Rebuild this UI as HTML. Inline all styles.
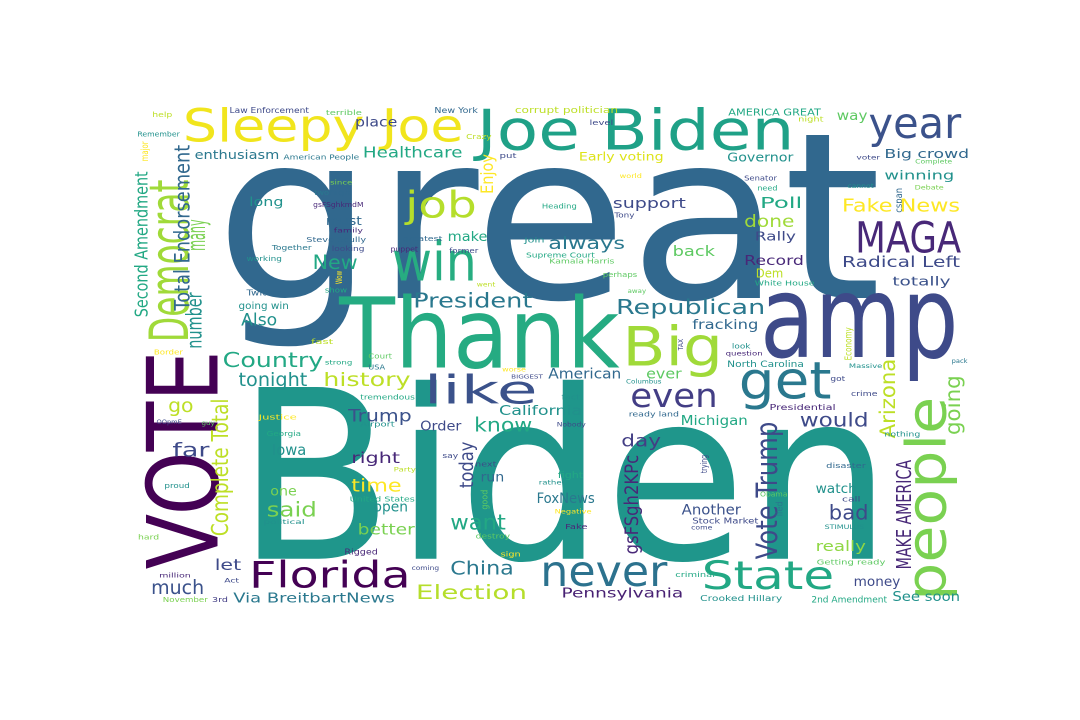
<!DOCTYPE html>
<html><head><meta charset="utf-8"><title>Word cloud</title>
<style>html,body{margin:0;padding:0;background:#fff;}svg{display:block;}
text{font-family:"DejaVu Sans","Liberation Sans",sans-serif;}</style></head>
<body>
<svg id="cloud" width="1080" height="720" viewBox="0 0 1080 720" xmlns="http://www.w3.org/2000/svg">
<rect width="1080" height="720" fill="#ffffff"/>
<g id="words" transform="translate(130,95) scale(0.5294,0.3317)"></g>
</svg>
<script>
// [text, x, baselineY, fontSize, length, color, rotated]
const words = [
["great",160,612,700,1260,"#31688e",0],
["Biden",200,1398,710,1240,"#1f968b",0],
["VOTE",165,1430,185,660,"#440154",1],
["Thank",395,822,294,530,"#25ab82",0],
["amp",1190,790,345,375,"#3e4a89",0],
["Joe Biden",655,165,170,600,"#1fa187",0],
["Sleepy Joe",100,140,137,530,"#f1e51d",0],
["year",1395,130,128,175,"#3b528b",0],
["MAGA",1370,475,130,200,"#482878",0],
["people",1540,1525,105,615,"#7ad151",1],
["Democrat",110,745,103,490,"#a0da39",1],
["Big",930,815,165,190,"#a0da39",0],
["get",1150,915,155,175,"#2a788e",0],
["like",555,930,118,215,"#3b528b",0],
["even",945,940,100,165,"#433e85",0],
["win",495,560,165,160,"#27ad81",0],
["job",520,370,110,135,"#b5de2b",0],
["never",775,1480,128,240,"#2c728e",0],
["State",1080,1490,118,250,"#22a884",0],
["Florida",225,1485,110,305,"#440154",0],
["Election",540,1520,58,210,"#b5de2b",0],
["Pennsylvania",815,1515,41,230,"#482173",0],
["China",605,1445,55,120,"#2a788e",0],
["much",40,1505,59,100,"#3b528b",0],
["Via BreitbartNews",195,1530,41,305,"#2a788e",0],
["November",62,1528,22,85,"#7ad151",0],
["3rd",155,1528,22,30,"#433e85",0],
["Country",175,820,62,190,"#22a884",0],
["history",365,878,57,165,"#bddf26",0],
["tonight",205,878,55,130,"#21918c",0],
["President",535,640,62,225,"#2a788e",0],
["Republican",918,660,62,282,"#2a788e",0],
["Also",210,695,50,68,"#21918c",0],
["going win",205,645,30,95,"#21918c",0],
["Twitter",220,605,24,65,"#31688e",0],
["number",135,765,40,170,"#21918c",1],
["many",142,470,48,95,"#7ad151",1],
["Total Endorsement",112,650,40,500,"#31688e",1],
["Second Amendment",33,670,34,440,"#22a884",1],
["Remember",14,125,22,80,"#21918c",0],
["help",42,67,22,38,"#bddf26",0],
["major",34,200,18,60,"#fde725",1],
["Law Enforcement",188,55,24,150,"#3e4a89",0],
["terrible",370,60,20,68,"#5ec962",0],
["New York",575,55,24,82,"#31688e",0],
["corrupt politician",727,55,26,195,"#bddf26",0],
["AMERICA GREAT",1130,62,30,175,"#22a884",0],
["night",1262,80,20,48,"#bddf26",0],
["way",1335,75,40,58,"#5ec962",0],
["level",868,90,20,45,"#3e4a89",0],
["Crazy",635,133,22,48,"#bddf26",0],
["place",425,95,40,80,"#3e4a89",0],
["Healthcare",440,188,45,188,"#22a884",0],
["enthusiasm",122,193,38,160,"#2a788e",0],
["American People",290,195,20,143,"#2a788e",0],
["put",698,190,22,32,"#3e4a89",0],
["Early voting",848,198,34,160,"#dde318",0],
["Governor",1128,200,36,125,"#21918c",0],
["Big crowd",1425,190,38,160,"#31688e",0],
["voter",1372,195,18,45,"#3e4a89",0],
["Complete",1483,207,18,70,"#5ec962",0],
["Enjoy",686,298,32,120,"#fde725",1],
["world",925,250,18,42,"#fde725",0],
["Senator",1160,258,20,62,"#3e4a89",0],
["winning",1425,255,38,132,"#21918c",0],
["need",1185,288,20,38,"#22a884",0],
["cannot",1355,280,18,50,"#21918c",0],
["Debate",1482,285,18,55,"#7ad151",0],
["cspan",1458,355,18,75,"#31688e",1],
["since",378,270,18,42,"#7ad151",0],
["two",348,302,20,28,"#2a788e",0],
["high",375,302,24,42,"#31688e",0],
["gsFSghkmdM",346,337,20,95,"#482878",0],
["long",225,335,38,65,"#21918c",0],
["must",370,392,36,68,"#31688e",0],
["family",385,415,18,55,"#482878",0],
["Steve Scully",333,443,22,113,"#31688e",0],
["greatest",515,440,20,75,"#31688e",0],
["make",600,440,40,75,"#22a884",0],
["Heading",778,342,20,66,"#22a884",0],
["support",912,340,42,138,"#3e4a89",0],
["Tony",915,370,20,38,"#3e4a89",0],
["Poll",1190,340,46,80,"#22a884",0],
["done",1160,398,50,95,"#a0da39",0],
["Fake News",1345,352,54,223,"#fde725",0],
["Rally",1180,438,38,78,"#3e4a89",0],
["always",790,465,50,145,"#2a788e",0],
["Join",745,445,20,38,"#21918c",0],
["Supreme Court",748,490,22,130,"#22a884",0],
["Kamala Harris",792,508,20,123,"#5ec962",0],
["back",1025,485,44,80,"#5ec962",0],
["Record",1160,513,40,113,"#482878",0],
["Dem",1182,550,36,52,"#bddf26",0],
["White House",1180,575,22,113,"#22a884",0],
["Radical Left",1345,518,46,223,"#3e4a89",0],
["totally",1440,575,38,110,"#3b528b",0],
["perhaps",893,548,20,65,"#5ec962",0],
["went",655,578,18,35,"#bddf26",0],
["away",940,597,18,35,"#5ec962",0],
["puppet",492,472,20,52,"#482878",0],
["former",603,476,20,55,"#3e4a89",0],
["looking",381,470,20,62,"#3e4a89",0],
["Together",268,468,20,75,"#2a788e",0],
["working",220,500,20,67,"#21918c",0],
["New",345,525,60,85,"#22a884",0],
["Wow",400,570,16,40,"#fde725",1],
["show",368,595,22,42,"#22a884",0],
["fracking",1062,705,40,125,"#31688e",0],
["fast",342,750,22,42,"#bddf26",0],
["Border",45,783,20,55,"#fde725",0],
["Court",450,795,20,45,"#5ec962",0],
["strong",368,812,18,52,"#22a884",0],
["USA",450,828,22,32,"#2a788e",0],
["worse",703,833,18,45,"#fde725",0],
["BIGGEST",720,855,16,60,"#3e4a89",0],
["American",790,855,42,138,"#31688e",0],
["TAX",1045,770,14,35,"#3e4a89",1],
["look",1137,765,20,35,"#21918c",0],
["question",1125,785,18,70,"#482878",0],
["ever",975,855,42,67,"#5ec962",0],
["Columbus",937,870,18,67,"#21918c",0],
["North Carolina",1128,820,26,145,"#21918c",0],
["Economy",1363,800,18,100,"#bddf26",1],
["Massive",1358,823,18,63,"#21918c",0],
["pack",1552,808,18,30,"#2a788e",0],
["Arizona",1445,1035,40,240,"#bddf26",1],
["going",1568,1025,40,180,"#7ad151",1],
["got",1323,863,20,28,"#3e4a89",0],
["crime",1362,908,20,50,"#3e4a89",0],
["tremendous",435,918,22,103,"#22a884",0],
["fact",815,918,20,35,"#21918c",0],
["go",72,955,55,48,"#bddf26",0],
["Complete Total",185,1330,44,415,"#bddf26",1],
["Justice",243,978,22,72,"#fde725",0],
["OOpmE",50,992,18,48,"#3e4a89",0],
["guy",135,995,18,25,"#5ec962",0],
["Trump",412,985,52,120,"#3b528b",0],
["California",697,965,40,157,"#21918c",0],
["Airport",435,1000,20,65,"#21918c",0],
["Nobody",806,1000,18,55,"#3e4a89",0],
["ready land",942,970,20,95,"#31688e",0],
["Presidential",1208,950,24,125,"#482878",0],
["know",650,1015,60,110,"#22a884",0],
["would",1265,1000,56,130,"#3e4a89",0],
["Order",548,1012,40,78,"#3e4a89",0],
["Michigan",1040,995,40,127,"#22a884",0],
["Georgia",258,1028,20,65,"#22a884",0],
["far",80,1090,56,70,"#3e4a89",0],
["Iowa",268,1085,46,65,"#21918c",0],
["day",928,1060,52,75,"#433e85",0],
["Vote Trump",1222,1400,55,415,"#3e4a89",1],
["nothing",1425,1030,20,68,"#21918c",0],
["gsFSgh2KPc",960,1385,36,300,"#482878",1],
["right",418,1110,46,92,"#482878",0],
["say",590,1095,20,30,"#3e4a89",0],
["next",652,1120,20,40,"#3e4a89",0],
["Party",498,1135,18,42,"#bddf26",0],
["today",648,1185,36,140,"#3e4a89",1],
["trying",1090,1140,16,55,"#3e4a89",1],
["disaster",1315,1125,20,75,"#31688e",0],
["MAKE AMERICA",1475,1430,38,330,"#482878",1],
["proud",65,1185,20,48,"#21918c",0],
["time",418,1195,54,95,"#fde725",0],
["run",662,1165,40,45,"#31688e",0],
["fight",808,1155,26,48,"#22a884",0],
["rather",772,1175,18,50,"#21918c",0],
["watch",1295,1200,40,78,"#21918c",0],
["call",1345,1225,20,35,"#3e4a89",0],
["Obama",1190,1210,20,52,"#5ec962",0],
["one",265,1208,40,50,"#7ad151",0],
["United States",415,1225,20,123,"#22a884",0],
["good",675,1250,16,60,"#5ec962",1],
["FoxNews",768,1230,42,110,"#2a788e",0],
["said",258,1270,62,95,"#7ad151",0],
["open",460,1255,42,65,"#21918c",0],
["political",252,1293,18,78,"#21918c",0],
["Negative",802,1262,18,70,"#fde725",0],
["lied",1233,1270,16,45,"#2a788e",1],
["Another",1042,1265,42,112,"#3b528b",0],
["bad",1320,1280,62,75,"#3e4a89",0],
["want",605,1310,64,105,"#22a884",0],
["better",430,1325,46,108,"#7ad151",0],
["Stock Market",1062,1292,24,125,"#3e4a89",0],
["Fake",822,1308,20,42,"#482878",0],
["STIMULUS",1312,1308,18,75,"#21918c",0],
["come",1060,1310,18,40,"#3e4a89",0],
["destroy",653,1337,20,65,"#5ec962",0],
["hard",15,1340,20,40,"#7ad151",0],
["Rigged",405,1385,24,63,"#482878",0],
["sign",700,1392,20,38,"#fde725",0],
["really",1295,1375,42,95,"#8fd744",0],
["let",160,1432,46,50,"#3e4a89",0],
["coming",532,1432,18,52,"#3e4a89",0],
["criminal",1030,1453,20,75,"#22a884",0],
["Getting ready",1297,1415,22,130,"#5ec962",0],
["million",55,1455,18,60,"#482878",0],
["Act",178,1470,18,28,"#3e4a89",0],
["money",1367,1480,40,88,"#3e4a89",0],
["Crooked Hillary",1077,1525,24,155,"#21918c",0],
["2nd Amendment",1287,1530,26,143,"#22a884",0],
["See soon",1440,1525,40,128,"#21918c",0]
];
const NS = "http://www.w3.org/2000/svg";
const g = document.getElementById("words");
for (const w of words) {
  const t = document.createElementNS(NS, "text");
  t.textContent = w[0];
  t.setAttribute("x", w[1]);
  t.setAttribute("y", w[2]);
  t.setAttribute("font-size", w[3]);
  t.setAttribute("textLength", w[4]);
  t.setAttribute("lengthAdjust", "spacingAndGlyphs");
  t.setAttribute("fill", w[5]);
  if (w[6]) t.setAttribute("transform", "rotate(-90 " + w[1] + " " + w[2] + ")");
  
  
  g.appendChild(t);
}
</script>
</body></html>
